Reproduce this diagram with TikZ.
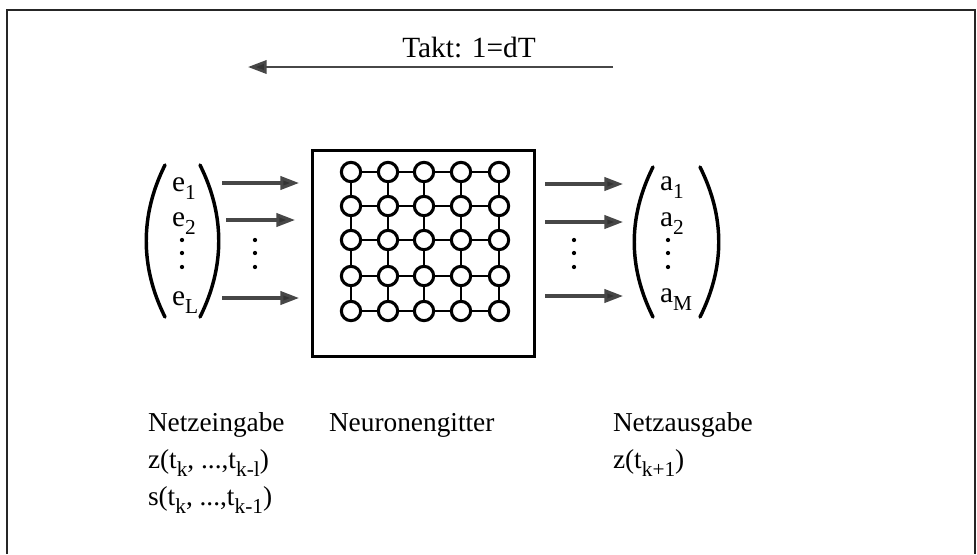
\documentclass[tikz,border=0pt]{standalone}
\usepackage{fontspec}
\setmainfont{Liberation Serif}
\usetikzlibrary{arrows.meta}
% lowered index, slightly smaller than the text
\newcommand\lowsub[1]{\lower6pt\hbox{\fontsize{16}{18}\selectfont #1}}
\begin{document}
\begin{tikzpicture}[x=0.75pt,y=-0.75pt,
  every node/.style={inner sep=0pt,outer sep=0pt},
  txt/.style={anchor=base west,font=\fontsize{20.5}{24}\selectfont},
  big/.style={anchor=base west,font=\fontsize{22}{26}\selectfont},
  flow/.style={line width=2.3pt,draw=black!72,-{Triangle[length=14pt,width=10pt,fill=black!80]}},
  neuron/.style={circle,draw,line width=2.3pt,minimum size=14.5pt},
  hlink/.style={line width=1.5pt},
  vlink/.style={line width=2pt},
  paren/.style={line width=2.6pt,line cap=round},
  dotmark/.style={circle,fill,minimum size=3.2pt}]
\useasboundingbox (0,0) rectangle (977,554);

% outer frame (open at the bottom)
\draw[line width=1.8pt,black!85] (7,554) -- (7,10) -- (975,10) -- (975,554);

% clock arrow
\coordinate (taktR) at (613,67);
\coordinate (taktL) at (248,67);
\draw[flow,line width=2pt] (taktR) -- (taktL);
\node[big,anchor=base] (takt) at (469,57) {Takt: 1=dT};

% neuron grid
\node[draw,line width=2.4pt,minimum width=167pt,minimum height=155pt] (gitter) at (423.5,253.5) {};
\foreach \i/\x in {1/351,2/388,3/424,4/461,5/499}
  \foreach \j/\y in {1/172,2/206,3/240,4/276,5/311}
    \node[neuron] (n\i\j) at (\x,\y) {};
\foreach \i in {1,...,4}
  \foreach \j in {1,...,5}{
    \pgfmathtruncatemacro\k{\i+1}
    \draw[hlink] (n\i\j) -- (n\k\j);
    \draw[vlink] (n\j\i) -- (n\j\k);
  }

% input vector
\draw[paren] (165,165) .. controls (140,215) and (140,267) .. (165,317);
\draw[paren] (200,165) .. controls (225,215) and (225,267) .. (200,317);
\node[big] (e1) at (172,191) {e\lowsub{1}};
\node[big] (e2) at (172,226) {e\lowsub{2}};
\node[big] (eL) at (172,305) {e\lowsub{L}};
\foreach \y [count=\c] in {240,253,267}{
  \node[dotmark] (ed\c) at (182,\y) {};
  \node[dotmark] (ad\c) at (255,\y) {};
  \node[dotmark] (bd\c) at (574,\y) {};
  \node[dotmark] (od\c) at (668,\y) {};
}

% input arrows
\coordinate (i1s) at (222,183); \coordinate (i1e) at (299,183);
\coordinate (i2s) at (226,220); \coordinate (i2e) at (295,220);
\coordinate (i3s) at (222,298); \coordinate (i3e) at (299,298);
\draw[flow] (i1s) -- (i1e);
\draw[flow] (i2s) -- (i2e);
\draw[flow] (i3s) -- (i3e);

% output arrows
\coordinate (o1s) at (545,184); \coordinate (o1e) at (623,184);
\coordinate (o2s) at (545,222); \coordinate (o2e) at (623,222);
\coordinate (o3s) at (545,296); \coordinate (o3e) at (623,296);
\draw[flow] (o1s) -- (o1e);
\draw[flow] (o2s) -- (o2e);
\draw[flow] (o3s) -- (o3e);

% output vector
\draw[paren] (653,167) .. controls (628,217) and (628,267) .. (653,317);
\draw[paren] (700,167) .. controls (725,217) and (725,267) .. (700,317);
\node[big] (a1) at (660,190) {a\lowsub{1}};
\node[big] (a2) at (660,226) {a\lowsub{2}};
\node[big] (aM) at (660,302) {a\lowsub{M}};

% captions
\node[txt] (cin)  at (148,431) {Netzeingabe};
\node[txt] (cin2) at (148,468) {z(t\lowsub{k}, ...,t\lowsub{k-l})};
\node[txt] (cin3) at (148,505) {s(t\lowsub{k}, ...,t\lowsub{k-1})};
\node[txt] (cgit) at (329,431) {Neuronengitter};
\node[txt] (cout) at (613,431) {Netzausgabe};
\node[txt] (cout2) at (613,468) {z(t\lowsub{k+1})};
\end{tikzpicture}
\end{document}
